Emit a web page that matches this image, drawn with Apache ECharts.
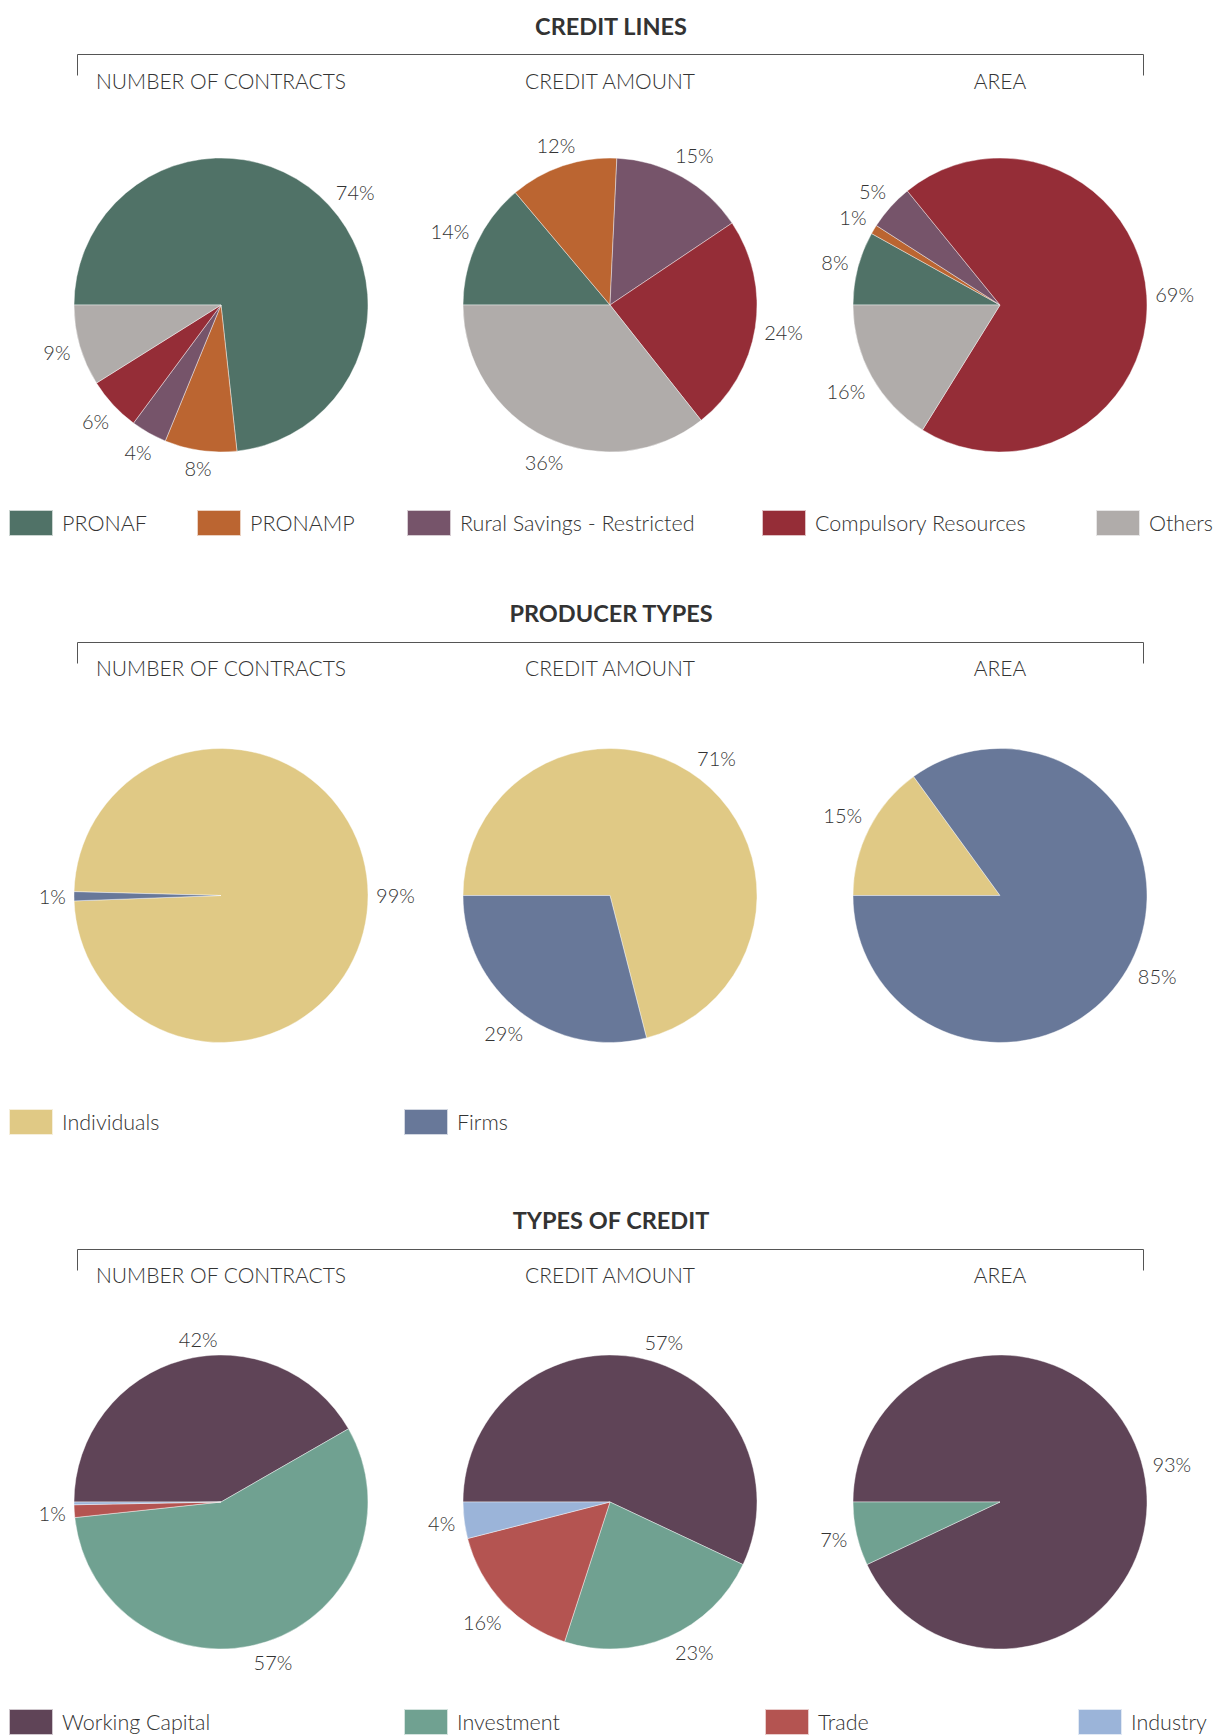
<!DOCTYPE html>
<html>
<head>
    <meta charset="utf-8">
    <script src="https://cdn.jsdelivr.net/npm/echarts@6/dist/echarts.min.js"></script>
    <style>
        body { margin: 0; background: #fff; }
        #main { width: 1213px; height: 1735px; }
    </style>
</head>
<body>
    <div id="main"></div>
    <script type="text/javascript">
        // headings
        var sectionTitles = ['CREDIT LINES', 'PRODUCER TYPES', 'TYPES OF CREDIT'];
        var pieTitles = ['NUMBER OF CONTRACTS', 'CREDIT AMOUNT', 'AREA'];

        // credit lines (%)
        var lineNames = ['PRONAF', 'PRONAMP', 'Rural Savings - Restricted', 'Compulsory Resources', 'Others'];
        var lineContracts = [74, 8, 4, 6, 9];
        var lineAmount = [14, 12, 15, 24, 36];
        var lineArea = [8, 1, 5, 69, 16];

        // producer types (%)
        var producerNames = ['Individuals', 'Firms'];
        var producerContracts = [99, 1];
        var producerAmount = [71, 29];
        var producerArea = [15, 85];

        // types of credit (%)
        var typeNames = ['Working Capital', 'Investment', 'Trade', 'Industry'];
        var typeContracts = [42, 57, 1.4, 0.3];
        var typeAmount = [57, 23, 16, 4];
        var typeArea = [93, 7, 0, 0];

        var colors = {
            'PRONAF': '#507267',
            'PRONAMP': '#bb6531',
            'Rural Savings - Restricted': '#76546a',
            'Compulsory Resources': '#952d37',
            'Others': '#b0acaa',
            'Individuals': '#e0c985',
            'Firms': '#687899',
            'Working Capital': '#5f4457',
            'Investment': '#70a191',
            'Trade': '#b45451',
            'Industry': '#9bb4d9'
        };

        var FONT = 'Lato, "Open Sans", sans-serif';
        var TXT = '#333';

        // layout
        var colX = [221, 610, 1000];
        var R = 147;
        var GAP = 5, GAPX = 3;
        // a few labels in the original sit off the slice middle (degrees, + = counter-clockwise)
        var labelTurn = { '0-0-0': -8, '0-1-4': 3, '2-0-0': -7, '2-1-0': -6, '2-1-1': 6 };

        var sections = [
            { title: 25.5, line: 54.5, sub: 80, pieY: 305, legendY: 522, legendX: [8, 196, 406, 761, 1095],
              names: lineNames, values: [lineContracts, lineAmount, lineArea], start: [180, 180, 180] },
            { title: 613, line: 642.5, sub: 667.5, pieY: 895.5, legendY: 1121, legendX: [8, 403],
              names: producerNames, values: [producerContracts, producerAmount, producerArea], start: [178.5, 180, 180] },
            { title: 1220, line: 1249.5, sub: 1274, pieY: 1502, legendY: 1721, legendX: [8, 403, 764, 1077],
              names: typeNames, values: [typeContracts, typeAmount, typeArea], start: [180, 180, 180] }
        ];

        var series = [];
        var legends = [];
        var graphics = [];

        sections.forEach(function (sec, s) {
            graphics.push({
                type: 'text', x: 611, y: sec.title, silent: true,
                style: { text: sectionTitles[s], align: 'center', verticalAlign: 'middle', font: 'bold 23.5px ' + FONT, fill: '#333' }
            });
            graphics.push({
                type: 'polyline', silent: true,
                shape: { points: [[77.5, sec.line + 21], [77.5, sec.line], [1143.5, sec.line], [1143.5, sec.line + 21]] },
                style: { stroke: '#555', lineWidth: 1, fill: null }
            });
            pieTitles.forEach(function (t, i) {
                graphics.push({
                    type: 'text', x: colX[i], y: sec.sub, silent: true,
                    style: { text: t, align: 'center', verticalAlign: 'middle', font: '300 21px ' + FONT, fill: TXT }
                });
            });

            sec.values.forEach(function (vals, i) {
                var data = [], labelData = [];
                vals.forEach(function (v, k) {
                    if (v <= 0) return;
                    data.push({ name: sec.names[k], value: v, itemStyle: { color: colors[sec.names[k]] } });
                    labelData.push({ name: sec.names[k], value: v });
                });
                var cx = colX[i], cy = sec.pieY;
                series.push({
                    type: 'pie',
                    center: [cx, cy],
                    radius: R,
                    startAngle: sec.start[i],
                    clockwise: true,
                    animation: false,
                    label: { show: false },
                    labelLine: { show: false },
                    emphasis: { disabled: true },
                    itemStyle: { borderColor: 'rgba(255,255,255,0.7)', borderWidth: 0.6 },
                    data: data
                });
                // transparent ring carrying the percentage labels just outside the pie
                series.push({
                    type: 'pie',
                    center: [cx, cy],
                    radius: [R + 9, R + 35],
                    startAngle: sec.start[i],
                    clockwise: true,
                    animation: false,
                    silent: true,
                    emphasis: { disabled: true },
                    itemStyle: { color: 'rgba(0,0,0,0)', borderWidth: 0 },
                    label: {
                        show: true,
                        position: 'inside',
                        fontFamily: FONT,
                        fontWeight: 300,
                        fontSize: 20,
                        color: TXT,
                        formatter: function (p) { return p.value >= 0.5 ? Math.round(p.value) + '%' : ''; }
                    },
                    labelLayout: (function (s, i, cx, cy, names, labelData) {
                        return function (p) {
                            var r = p.labelRect;
                            var lx = r.x + r.width / 2, ly = r.y + r.height / 2;
                            var ang = Math.atan2(cy - ly, lx - cx);
                            var turn = labelTurn[s + '-' + i + '-' + names.indexOf(labelData[p.dataIndex].name)] || 0;
                            ang += turn * Math.PI / 180;
                            var ux = Math.cos(ang), uy = -Math.sin(ang);
                            var need = R + GAP + (r.width / 2 + GAPX) * Math.abs(ux) + (r.height / 2) * Math.abs(uy);
                            return { x: cx + ux * need, y: cy + uy * need };
                        };
                    })(s, i, cx, cy, sec.names, labelData),
                    labelLine: { show: false },
                    data: labelData
                });
            });

            sec.names.forEach(function (n, k) {
                legends.push({
                    data: [n],
                    left: sec.legendX[k],
                    top: sec.legendY - 13,
                    padding: 0,
                    icon: 'rect',
                    itemWidth: 44,
                    itemHeight: 26,
                    selectedMode: false,
                    textStyle: { fontFamily: FONT, fontWeight: 300, fontSize: 21.5, color: TXT, padding: [0, 0, 0, 4] }
                });
            });
        });

        var myChart = echarts.init(document.getElementById('main'), null, { renderer: 'svg' });
        myChart.setOption({
            backgroundColor: '#fff',
            animation: false,
            legend: legends,
            graphic: graphics,
            series: series
        });
    </script>
</body>
</html>
